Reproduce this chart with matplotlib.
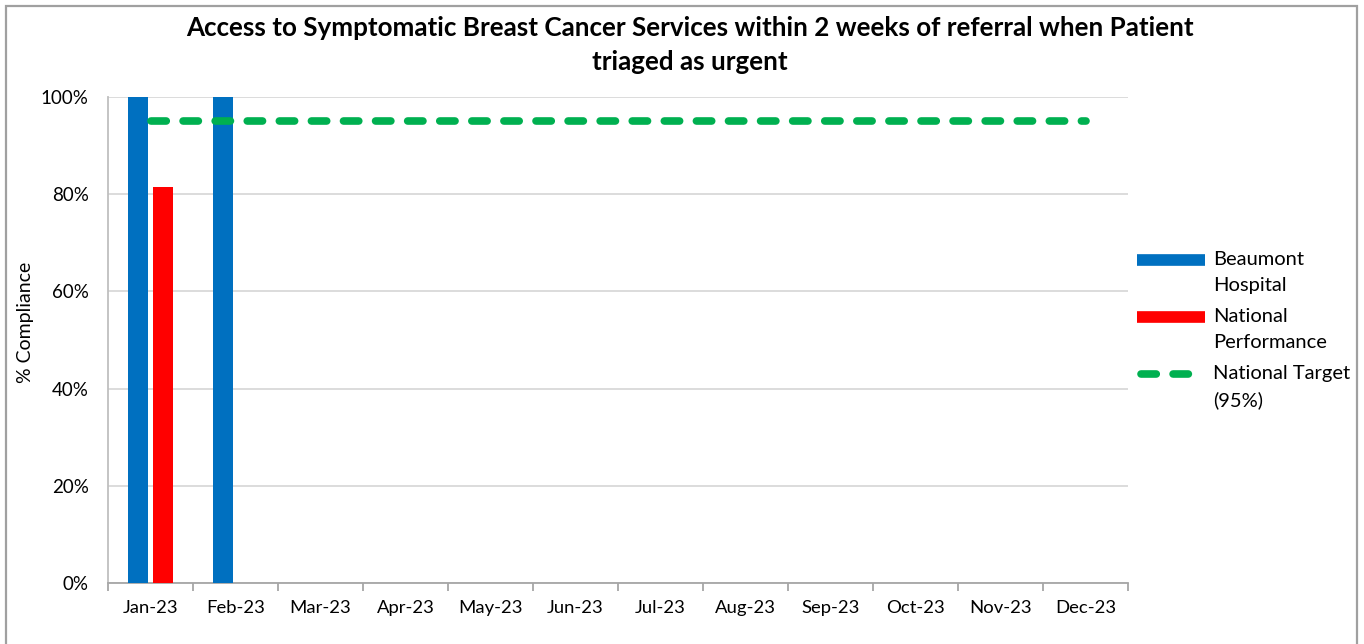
import matplotlib
matplotlib.use("Agg")
import matplotlib.pyplot as plt
from matplotlib.patches import Rectangle
from matplotlib.lines import Line2D
from matplotlib.ticker import FuncFormatter
import numpy as np

plt.rcParams['font.family'] = ['Lato', 'DejaVu Sans']

months = ["Jan-23", "Feb-23", "Mar-23", "Apr-23", "May-23", "Jun-23",
          "Jul-23", "Aug-23", "Sep-23", "Oct-23", "Nov-23", "Dec-23"]
beaumont = [100, 100, None, None, None, None, None, None, None, None, None, None]
national = [81.5, None, None, None, None, None, None, None, None, None, None, None]
target = [95] * 12
series_names = ["Beaumont\nHospital", "National\nPerformance", "National Target\n(95%)"]

W, H = 1364, 644
fig = plt.figure(figsize=(W / 100, H / 100), dpi=100)
ax = fig.add_axes([108 / W, 1 - 583 / H, (1128 - 108) / W, (583 - 97) / H])

BLUE, RED, GREEN = "#0070C0", "#FF0000", "#00B050"
x = np.arange(len(months))
bw = 0.23
off = 0.145
bv = np.array([np.nan if v is None else v for v in beaumont], dtype=float)
nv = np.array([np.nan if v is None else v for v in national], dtype=float)
ax.bar(x - off, bv, width=bw, color=BLUE, zorder=3)
ax.bar(x + off, nv, width=bw, color=RED, zorder=3)
DLW = 5.5
DASH = (2.0, 2.2)
ax.plot(x, target, color=GREEN, lw=DLW, dashes=DASH,
        dash_capstyle="round", solid_capstyle="round", zorder=4)

ax.set_xlim(-0.5, len(months) - 0.5)
ax.set_ylim(0, 100)
ax.set_yticks([0, 20, 40, 60, 80, 100])
ax.yaxis.set_major_formatter(FuncFormatter(lambda v, p: f"{int(v)}%"))
ax.set_xticks(np.arange(-0.5, len(months), 1.0), minor=False)
ax.set_xticklabels([])
ax.set_xticks(x, minor=True)
ax.set_xticklabels(months, minor=True)
ax.tick_params(axis="x", which="major", length=6, color="#A6A6A6", width=1.3)
ax.tick_params(axis="x", which="minor", length=0, labelsize=13.3, pad=12, colors="#000000")
ax.tick_params(axis="y", length=0, labelsize=13.5, pad=14)
ax.grid(axis="y", color="#D9D9D9", lw=1.3, zorder=0)
for s in ["top", "right"]:
    ax.spines[s].set_visible(False)
ax.spines["left"].set_color("#BFBFBF")
ax.spines["left"].set_linewidth(1.3)
ax.spines["bottom"].set_color("#A6A6A6")
ax.spines["bottom"].set_linewidth(1.3)

fig.text(25 / W, 1 - 322 / H, "% Compliance", rotation=90, ha="center", va="center", fontsize=14)

fig.text(690 / W, 1 - 28 / H, "Access to Symptomatic Breast Cancer Services within 2 weeks of referral when Patient",
         ha="center", va="center", fontsize=18.7, fontweight="bold")
fig.text(690 / W, 1 - 62 / H, "triaged as urgent",
         ha="center", va="center", fontsize=18.7, fontweight="bold")

# legend drawn manually (handles aligned with first line of text)
leg_y = [260, 317, 374]
styles = [dict(color=BLUE, lw=8.4, solid_capstyle="butt"),
          dict(color=RED, lw=8.4, solid_capstyle="butt"),
          dict(color=GREEN, lw=DLW, dashes=DASH, dash_capstyle="round")]
for yy, name, st in zip(leg_y, series_names, styles):
    if "dashes" in st:
        x0, x1 = 1141, 1204
    else:
        x0, x1 = 1137, 1205
    fig.add_artist(Line2D([x0 / W, x1 / W], [1 - yy / H, 1 - yy / H],
                          transform=fig.transFigure, **st))
    fig.text(1213 / W, 1 - (yy - 9) / H, name, ha="left", va="top",
             fontsize=14.5, linespacing=1.65)

fig.patches.append(Rectangle((6 / W, -0.1), (1357 - 6) / W, 1.1 - 6 / H,
                             transform=fig.transFigure, fill=False,
                             edgecolor="#A0A0A0", lw=1.6))

fig.savefig("out.png", dpi=100)
